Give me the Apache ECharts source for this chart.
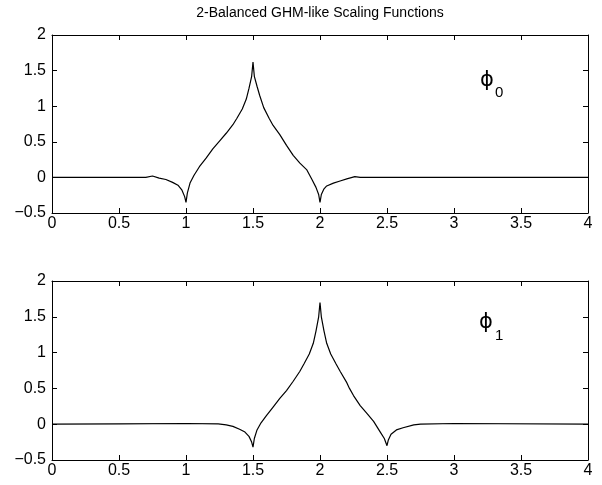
<!DOCTYPE html>
<html>
<head>
<meta charset="utf-8">
<script src="https://cdn.jsdelivr.net/npm/echarts@6/dist/echarts.min.js"></script>
<style>
  html, body { margin: 0; padding: 0; background: #fff; }
  #chart { width: 602px; height: 485px; }
</style>
</head>
<body>
<div id="chart"></div>
<script>
// phi_0 samples (x, value)
const phi0X = [0, 0.7, 0.75, 0.8, 0.85, 0.9, 0.94, 0.97, 0.99, 1.0, 1.01, 1.03, 1.06, 1.1, 1.15, 1.2, 1.25, 1.3, 1.35, 1.38, 1.42, 1.45, 1.47, 1.49, 1.5,
               1.51, 1.53, 1.55, 1.58, 1.62, 1.65, 1.7, 1.75, 1.8, 1.85, 1.9, 1.94, 1.97, 1.99, 2.0, 2.01, 2.03, 2.05, 2.1, 2.15, 2.2, 2.26, 2.3, 4];
const phi0Y = [0, 0, 0.02, -0.01, -0.03, -0.07, -0.11, -0.18, -0.27, -0.35, -0.22, -0.08, 0.03, 0.15, 0.27, 0.4, 0.51, 0.62, 0.74, 0.83, 0.96, 1.1, 1.25, 1.42, 1.62,
               1.42, 1.28, 1.15, 0.98, 0.83, 0.73, 0.6, 0.45, 0.31, 0.2, 0.11, -0.03, -0.14, -0.24, -0.35, -0.24, -0.16, -0.12, -0.08, -0.05, -0.02, 0.01, 0, 0];

// phi_1 samples
const phi1X = [0, 0.5, 1.0, 1.24, 1.3, 1.35, 1.4, 1.44, 1.47, 1.49, 1.5, 1.51, 1.53, 1.56, 1.6, 1.65, 1.7, 1.75, 1.8, 1.85, 1.88, 1.92, 1.95, 1.97, 1.99, 2.0,
               2.01, 2.03, 2.05, 2.08, 2.12, 2.15, 2.2, 2.22, 2.25, 2.3, 2.35, 2.4, 2.45, 2.48, 2.5, 2.51, 2.53, 2.57, 2.62, 2.7, 2.75, 3.0, 4];
const phi1Y = [0, 0.005, 0.01, 0.005, -0.01, -0.03, -0.07, -0.11, -0.17, -0.25, -0.32, -0.2, -0.08, 0.02, 0.12, 0.24, 0.36, 0.47, 0.6, 0.74, 0.84, 0.98, 1.13, 1.3, 1.5, 1.7,
               1.5, 1.3, 1.13, 0.98, 0.84, 0.74, 0.58, 0.5, 0.4, 0.26, 0.15, 0.04, -0.11, -0.2, -0.3, -0.22, -0.14, -0.08, -0.05, -0.01, 0, 0.01, 0];

const xTicks = [0, 4, 0.5];       // min, max, interval
const yTicks = [-0.5, 2, 0.5];
const titleText = '2-Balanced GHM-like Scaling Functions';

const FONT = '"Liberation Sans", Arial, Helvetica, sans-serif';
const PHI_FONT = '"DejaVu Sans", "Liberation Sans", sans-serif';

function pairs(xs, ys) {
    return xs.map((x, i) => [x, ys[i]]);
}

function fmt(v) {
    return String(v).replace('-', '\u2212');
}

// one boxed panel = bottom/left axes with labels + top/right axes with ticks only
function xAxes(gridIndex) {
    const base = {
        type: 'value', gridIndex: gridIndex,
        min: xTicks[0], max: xTicks[1], interval: xTicks[2],
        axisLine: { show: true, onZero: false, lineStyle: { color: '#000', width: 1 } },
        axisTick: { show: true, inside: true, length: 5, lineStyle: { color: '#000' } },
        splitLine: { show: false }
    };
    return [
        Object.assign({}, base, {
            position: 'bottom',
            axisLabel: { color: '#000', fontSize: 16, fontFamily: FONT, margin: 3, formatter: fmt }
        }),
        Object.assign({}, base, { position: 'top', axisLabel: { show: false } })
    ];
}

function yAxes(gridIndex) {
    const base = {
        type: 'value', gridIndex: gridIndex,
        min: yTicks[0], max: yTicks[1], interval: yTicks[2],
        axisLine: { show: true, onZero: false, lineStyle: { color: '#000', width: 1 } },
        axisTick: { show: true, inside: true, length: 5, lineStyle: { color: '#000' } },
        splitLine: { show: false }
    };
    return [
        Object.assign({}, base, {
            position: 'left',
            axisLabel: { color: '#000', fontSize: 16, fontFamily: FONT, margin: 6, formatter: fmt }
        }),
        Object.assign({}, base, { position: 'right', axisLabel: { show: false } })
    ];
}

function lineSeries(idx, data) {
    return {
        type: 'line', xAxisIndex: idx * 2, yAxisIndex: idx * 2,
        data: data, showSymbol: false, symbol: 'none',
        lineStyle: { color: '#000', width: 1.2 },
        animation: false
    };
}

const chart = echarts.init(document.getElementById('chart'));
chart.setOption({
    backgroundColor: '#fff',
    animation: false,
    grid: [
        { left: 52, top: 35, width: 536, height: 178 },
        { left: 52, top: 281, width: 536, height: 179 }
    ],
    xAxis: xAxes(0).concat(xAxes(1)),
    yAxis: yAxes(0).concat(yAxes(1)),
    series: [
        lineSeries(0, pairs(phi0X, phi0Y)),
        lineSeries(1, pairs(phi1X, phi1Y))
    ],
    graphic: [
        { type: 'text', x: 320, y: 6, style: { text: titleText, fontSize: 14, fontFamily: FONT, fill: '#000', align: 'center' } },
        { type: 'text', x: 480, y: 70, style: { text: '\u03d5', fontSize: 21, fontFamily: PHI_FONT, fill: '#000' } },
        { type: 'text', x: 495, y: 85, style: { text: '0', fontSize: 15, fontFamily: FONT, fill: '#000' } },
        { type: 'text', x: 479, y: 312, style: { text: '\u03d5', fontSize: 21, fontFamily: PHI_FONT, fill: '#000' } },
        { type: 'text', x: 495, y: 328, style: { text: '1', fontSize: 15, fontFamily: FONT, fill: '#000' } }
    ]
});
</script>
</body>
</html>
